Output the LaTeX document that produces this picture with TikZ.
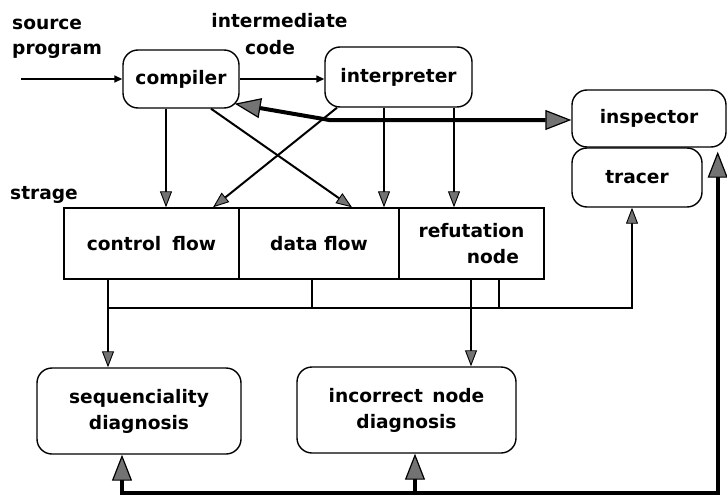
\documentclass[tikz,border=0pt]{standalone}
\usepackage{fontspec}
\setmainfont{DejaVu Sans}
\usetikzlibrary{arrows.meta}
\tikzset{
  hatch/.tip={Triangle[length=16pt,width=12pt,fill=black!55,line width=0.9pt]},
  hatchbig/.tip={Triangle[length=26pt,width=20pt,fill=black!55,line width=1.2pt]},
  dot/.tip={Triangle[length=8pt,width=7pt]},
}
\begin{document}
\begin{tikzpicture}[x=1pt,y=-1pt,
  every node/.style={font=\fontsize{18.6}{26}\selectfont\bfseries},
  proc/.style={draw,line width=1.4pt,rounded corners=15pt,align=center,inner sep=0pt},
  cell/.style={draw,line width=1.4pt,inner sep=0pt,minimum height=71pt},
  txt/.style={inner sep=0pt},
  wire/.style={line width=1.5pt},
  cross/.style={line width=2pt},
  heavy/.style={line width=4pt},
  busline/.style={line width=2pt},
]
\useasboundingbox (0,0) rectangle (727,500);

% processing units
\node[proc,minimum width=116pt,minimum height=58pt] (compiler) at (181,79) {compiler};
\node[proc,minimum width=147pt,minimum height=60pt] (interp) at (398.5,77) {interpreter};
\node[proc,minimum width=154pt,minimum height=57pt] (inspector) at (649,118.5) {inspector};
\node[proc,minimum width=130pt,minimum height=59pt] (tracer) at (637,177.5) {tracer};

% storage cells
\node[cell,minimum width=175pt] (cf) at (151.5,243.5) {control\hspace{0.6em}flow};
\node[cell,minimum width=160pt] (df) at (319,243.5) {data flow};
\node[cell,minimum width=145pt,align=left] (rn) at (471.5,243.5) {refutation\\\hspace*{2.6em}node};

% diagnosis units
\node[proc,minimum width=204pt,minimum height=86pt] (seq) at (139,411) {sequenciality\\diagnosis};
\node[proc,minimum width=219pt,minimum height=86pt] (inc) at (406.5,410) {incorrect\hspace{0.5em}node\\diagnosis};

% free labels
\node[txt,anchor=base west] (src) at (12,30) {source};
\node[txt,anchor=base west] (prog) at (12,55) {program};
\node[txt,anchor=base] (inter) at (279.5,28) {intermediate};
\node[txt,anchor=base] (code) at (270,55) {code};
\node[txt,anchor=base west] (strage) at (10,199) {strage};

\coordinate (in) at (21,79);
\coordinate (bus) at (0,308);
\coordinate (fb) at (0,493);

% main flow
\draw[wire,-dot] (in) -- (compiler.west);
\draw[wire,-dot] (compiler.east) -- (compiler.east -| interp.west);
\draw[heavy,hatchbig-hatchbig] ([xshift=-5pt,yshift=5pt]compiler.south east)
  -- ([xshift=-242pt,yshift=-1.5pt]inspector.west) -- ([yshift=-1.5pt]inspector.west);

% into storage
\draw[wire,-hatch] ([xshift=-15pt]compiler.south) -- ([xshift=-15pt]compiler.south |- cf.north);
\draw[cross,-hatch] ([xshift=30pt]compiler.south) -- ([xshift=33pt]df.north);
\draw[cross,-hatch] ([xshift=-61.5pt]interp.south) -- ([xshift=61.5pt]cf.north);
\draw[wire,-hatch] ([xshift=-14.5pt]interp.south) -- ([xshift=-14.5pt]interp.south |- df.north);
\draw[wire,-hatch] ([xshift=55.5pt]interp.south) -- ([xshift=55.5pt]interp.south |- rn.north);

% out of storage
\draw[wire,-hatch] ([xshift=-43.5pt]cf.south) -- ([xshift=-43.5pt]cf.south |- seq.north);
\draw[busline,-hatch] ([xshift=-43.5pt]cf.south |- bus) -| ([xshift=-5pt]tracer.south);
\draw[wire] ([xshift=-7pt]df.south) -- ([xshift=-7pt]df.south |- bus);
\draw[wire] ([xshift=27.5pt]rn.south) -- ([xshift=27.5pt]rn.south |- bus);
\draw[wire,-hatch] ([xshift=-0.5pt]rn.south) -- ([xshift=-0.5pt]rn.south |- inc.north);

% feedback loop
\draw[heavy,hatchbig-hatchbig] ([xshift=-17pt]seq.south) -- ([xshift=-17pt]seq.south |- fb)
  -| ([xshift=-9pt,yshift=-4pt]inspector.south east);
\draw[heavy,-hatchbig] ([xshift=8.5pt]inc.south |- fb) -- ([xshift=8.5pt]inc.south);
\end{tikzpicture}
\end{document}
